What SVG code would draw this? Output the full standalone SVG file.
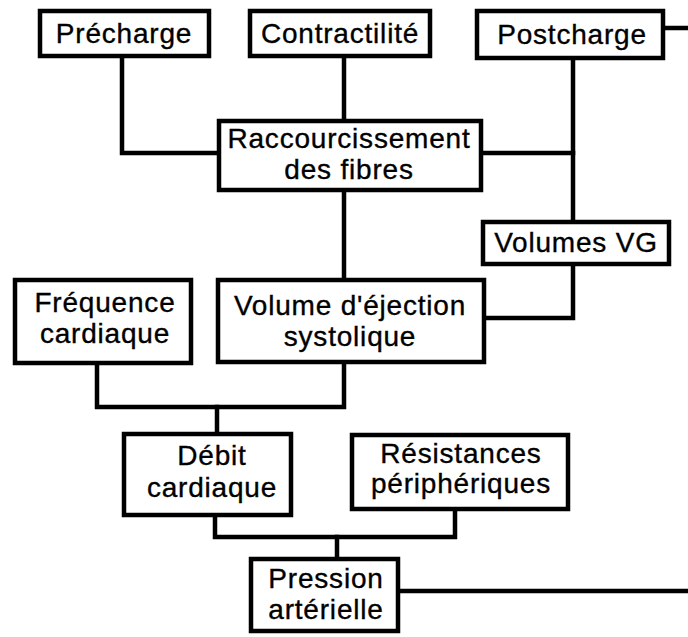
<svg xmlns="http://www.w3.org/2000/svg" width="688" height="637" viewBox="0 0 688 637">
<style>
.box{fill:#fff;stroke:#000;stroke-width:4.5}
.ln{fill:none;stroke:#000;stroke-width:4.5;stroke-linejoin:miter;stroke-linecap:square}
text{font-family:"Liberation Sans",Arial,sans-serif;font-size:28px;letter-spacing:0.8px;fill:#000;stroke:#000;stroke-width:0.35;text-anchor:middle}
</style>
<rect width="688" height="637" fill="#fff"/>
<g id="connectors">
<path class="ln" d="M122 58 V153 H219"/>
<path class="ln" d="M344 58 V121"/>
<path class="ln" d="M573 60 V222"/>
<path class="ln" d="M481 153 H573"/>
<path class="ln" d="M663 28 H690"/>
<path class="ln" d="M344 190 V280"/>
<path class="ln" d="M573 264 V318 H484"/>
<path class="ln" d="M97 363 V407 H344 V362"/>
<path class="ln" d="M217 407 V434"/>
<path class="ln" d="M215 515 V537 H455 V509"/>
<path class="ln" d="M337 537 V559"/>
<path class="ln" d="M398 591 H690"/>
</g>
<g id="precharge"><rect class="box" x="40" y="11" width="169" height="45"/><text x="124" y="43">Précharge</text></g>
<g id="contractilite"><rect class="box" x="250" y="11" width="180" height="45"/><text x="340" y="43">Contractilité</text></g>
<g id="postcharge"><rect class="box" x="477" y="11" width="186" height="47"/><text x="572" y="44">Postcharge</text></g>
<g id="raccourcissement"><rect class="box" x="219" y="121" width="262" height="69"/><text x="349" y="148">Raccourcissement</text><text x="349" y="179">des fibres</text></g>
<g id="volumesvg"><rect class="box" x="483" y="222" width="186" height="42"/><text x="576" y="252">Volumes VG</text></g>
<g id="frequence"><rect class="box" x="15" y="280" width="176" height="83"/><text x="105" y="312">Fréquence</text><text x="105" y="343">cardiaque</text></g>
<g id="volumeejection"><rect class="box" x="218" y="280" width="266" height="82"/><text x="350" y="315">Volume d'éjection</text><text x="350" y="346">systolique</text></g>
<g id="debit"><rect class="box" x="124" y="434" width="167" height="81"/><text x="212" y="465">Débit</text><text x="212" y="497">cardiaque</text></g>
<g id="resistances"><rect class="box" x="352" y="435" width="216" height="74"/><text x="461" y="463">Résistances</text><text x="461" y="493">périphériques</text></g>
<g id="pression"><rect class="box" x="251" y="559" width="147" height="72"/><text x="326" y="588">Pression</text><text x="326" y="619">artérielle</text></g>
</svg>
